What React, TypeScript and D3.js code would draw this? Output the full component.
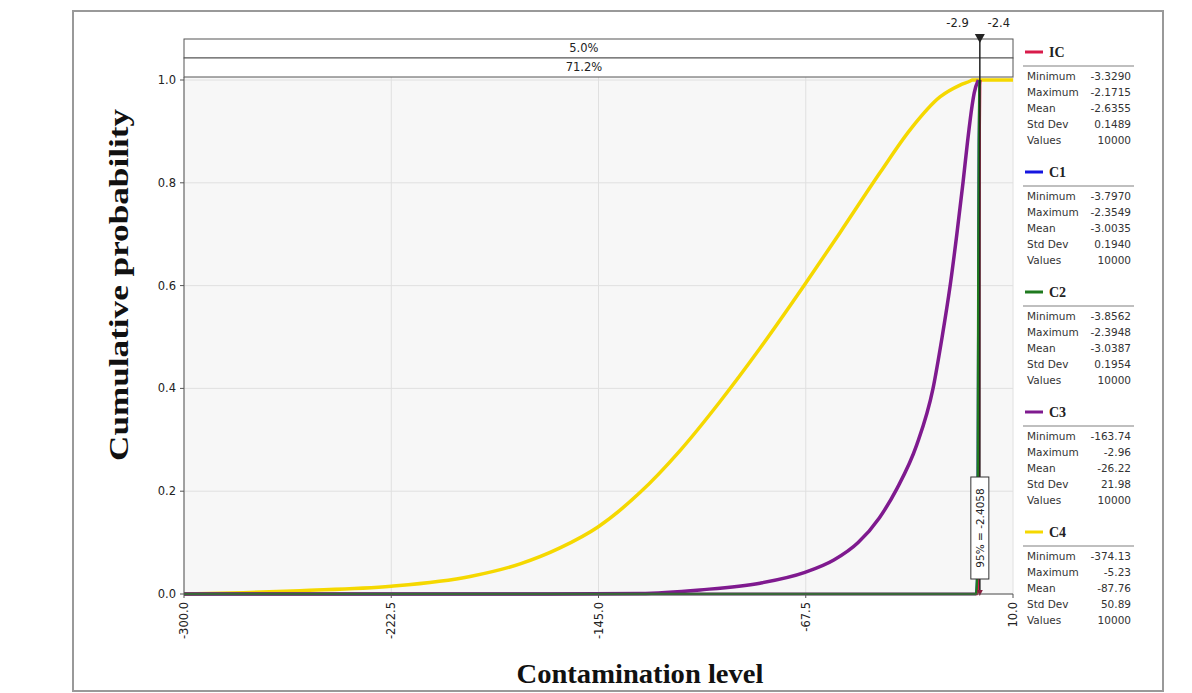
import React from "react";
import * as d3 from "d3";

const xTicks = [-300, -222.5, -145, -67.5, 10];
const yTicks = [0, 0.2, 0.4, 0.6, 0.8, 1.0];

const c4X = [-300, -278, -256.6, -222.5, -193, -174.3, -159.4, -145.2, -129.5, -114.5, -99.6, -84.6, -67.8, -54.7, -39.7, -28.5, -17.3, -9.8, -6, -5.23, 10];
const c4P = [0, 0.0025, 0.0065, 0.015, 0.034, 0.0586, 0.0897, 0.1304, 0.1973, 0.279, 0.374, 0.478, 0.6025, 0.703, 0.82, 0.903, 0.967, 0.99, 0.998, 1, 1];

const c3X = [-300, -163.74, -129.5, -107, -84.6, -67.8, -57, -47.9, -40, -33.4, -26, -19.9, -16.5, -13.5, -11, -8.7, -7, -5.3, -4.5, -2.96];
const c3P = [0, 0, 0.001, 0.008, 0.021, 0.042, 0.066, 0.1, 0.148, 0.205, 0.29, 0.4, 0.5, 0.6, 0.7, 0.8, 0.88, 0.95, 0.975, 1];

const icX = [-300, -3.33, -2.95, -2.8, -2.7, -2.64, -2.55, -2.45, -2.3, -2.17];
const icP = [0, 0, 0.02, 0.13, 0.33, 0.5, 0.72, 0.9, 0.99, 1];

const c1X = [-300, -3.8, -3.35, -3.2, -3.08, -3.0, -2.9, -2.75, -2.55, -2.35];
const c1P = [0, 0, 0.04, 0.18, 0.36, 0.5, 0.69, 0.88, 0.98, 1];

const c2X = [-300, -3.86, -3.38, -3.22, -3.12, -3.04, -2.94, -2.78, -2.6, -2.39];
const c2P = [0, 0, 0.04, 0.18, 0.36, 0.5, 0.69, 0.88, 0.98, 1];

const seriesNames = ["IC", "C1", "C2", "C3", "C4"];
const seriesColors = ["#d81b4a", "#1515e0", "#1f7a1f", "#7f1a8f", "#f5d800"];
const statLabels = ["Minimum", "Maximum", "Mean", "Std Dev", "Values"];
const statValues = [
  ["-3.3290", "-2.1715", "-2.6355", "0.1489", "10000"],
  ["-3.7970", "-2.3549", "-3.0035", "0.1940", "10000"],
  ["-3.8562", "-2.3948", "-3.0387", "0.1954", "10000"],
  ["-163.74", "-2.96", "-26.22", "21.98", "10000"],
  ["-374.13", "-5.23", "-87.76", "50.89", "10000"],
];

const leftMarker = -2.9;
const rightMarker = -2.4;
const topPct = "5.0%";
const midPct = "71.2%";
const pctLabel = "95% = -2.4058";

export default function App() {
  const x = d3.scaleLinear().domain([-300, 10]).range([184, 1013]);
  const y = d3.scaleLinear().domain([0, 1]).range([594, 80]);
  const line = d3
    .line<[number, number]>()
    .x((d) => x(d[0]))
    .y((d) => y(d[1]))
    .curve(d3.curveMonotoneX);

  const data: { [k: string]: [number[], number[]] } = {
    IC: [icX, icP],
    C1: [c1X, c1P],
    C2: [c2X, c2P],
    C3: [c3X, c3P],
    C4: [c4X, c4P],
  };
  const drawOrder = ["C4", "C3", "C1", "IC", "C2"];

  const tickFont = "'DejaVu Sans', sans-serif";
  const mx = x(rightMarker);
  const plotTop = 77;

  return (
    <svg
      width={1192}
      height={693}
      style={{ position: "absolute", left: 0, top: 0, background: "#fff" }}
    >
      <rect x={73} y={11} width={1090} height={680} fill="#fff" stroke="#999" strokeWidth={2} />
      {/* plot background */}
      <rect x={x(-300)} y={plotTop} width={x(10) - x(-300)} height={y(0) - plotTop} fill="#f7f7f7" />
      {/* grid */}
      {xTicks.map((t) => (
        <line key={"gx" + t} x1={x(t)} x2={x(t)} y1={plotTop} y2={y(0)} stroke="#e0e0e0" strokeWidth={1} />
      ))}
      {yTicks.map((t) => (
        <line key={"gy" + t} x1={x(-300)} x2={x(10)} y1={y(t)} y2={y(t)} stroke="#e0e0e0" strokeWidth={1} />
      ))}
      {/* top boxes */}
      <rect x={x(-300)} y={39} width={x(10) - x(-300)} height={19} fill="#fff" stroke="#555" strokeWidth={1} />
      <rect x={x(-300)} y={58} width={x(10) - x(-300)} height={19} fill="#fff" stroke="#555" strokeWidth={1} />
      <text x={(x(-300) + mx) / 2 + 2} y={52} textAnchor="middle" fontFamily={tickFont} fontSize={11.5} fill="#222">
        {topPct}
      </text>
      <text x={(x(-300) + mx) / 2 + 2} y={71} textAnchor="middle" fontFamily={tickFont} fontSize={11.5} fill="#222">
        {midPct}
      </text>
      <text x={x(leftMarker) - 21} y={27} textAnchor="middle" fontFamily={tickFont} fontSize={11.5} fill="#222">
        {leftMarker.toFixed(1)}
      </text>
      <text x={x(rightMarker) + 19} y={27} textAnchor="middle" fontFamily={tickFont} fontSize={11.5} fill="#222">
        {rightMarker.toFixed(1)}
      </text>
      {/* curves */}
      {drawOrder.map((name) => {
        const [xs, ps] = data[name];
        const pts = xs.map((v, i) => [v, ps[i]] as [number, number]);
        const color = seriesColors[seriesNames.indexOf(name)];
        return (
          <path key={name} d={line(pts) || ""} fill="none" stroke={color} strokeWidth={name === "C4" || name === "C3" ? 3.5 : 2.5} />
        );
      })}
      {/* marker line */}
      <line x1={mx} x2={mx} y1={34} y2={y(0)} stroke="#222" strokeWidth={1.5} />
      <path d={`M${mx - 5},${34} L${mx + 5},${34} L${mx},${43} Z`} fill="#222" />
      {/* 95% label */}
      <rect x={mx - 9} y={477} width={18} height={102} fill="#fff" stroke="#333" strokeWidth={1} />
      <text
        transform={`translate(${mx + 4},${528}) rotate(-90)`}
        textAnchor="middle"
        fontFamily={tickFont}
        fontSize={10.5}
        fill="#222"
      >
        {pctLabel}
      </text>
      <path d={`M${mx - 3},${590} L${mx + 3},${590} L${mx},${596} Z`} fill="#8a2040" />
      {/* axes */}
      <line x1={x(-300)} x2={x(-300)} y1={plotTop} y2={y(0)} stroke="#555" strokeWidth={1} />
      <line x1={x(-300)} x2={x(10)} y1={y(0)} y2={y(0)} stroke="#555" strokeWidth={1} />
      {yTicks.map((t) => (
        <g key={"yt" + t}>
          <line x1={x(-300) - 4} x2={x(-300)} y1={y(t)} y2={y(t)} stroke="#555" />
          <text x={x(-300) - 8} y={y(t) + 4} textAnchor="end" fontFamily={tickFont} fontSize={11.5} fill="#222">
            {t.toFixed(1)}
          </text>
        </g>
      ))}
      {xTicks.map((t) => (
        <g key={"xt" + t}>
          <line x1={x(t)} x2={x(t)} y1={y(0)} y2={y(0) + 4} stroke="#555" />
          <text
            transform={`translate(${x(t) + 4},${y(0) + 8}) rotate(-90)`}
            textAnchor="end"
            fontFamily={tickFont}
            fontSize={11.5}
            fill="#222"
          >
            {t.toFixed(1)}
          </text>
        </g>
      ))}
      {/* axis titles */}
      <text
        transform={`translate(128,285) rotate(-90)`}
        textAnchor="middle"
        fontFamily="'Liberation Serif', serif"
        fontWeight="bold"
        fontSize={28}
        textLength={352}
        lengthAdjust="spacingAndGlyphs"
        fill="#111"
      >
        Cumulative probability
      </text>
      <text
        x={640}
        y={683}
        textAnchor="middle"
        fontFamily="'Liberation Serif', serif"
        fontWeight="bold"
        fontSize={28}
        textLength={247}
        lengthAdjust="spacingAndGlyphs"
        fill="#111"
      >
        Contamination level
      </text>
      {/* legend */}
      {seriesNames.map((name, i) => {
        const top = 52 + i * 120;
        return (
          <g key={"lg" + name}>
            <line x1={1025} x2={1043} y1={top} y2={top} stroke={seriesColors[i]} strokeWidth={3} />
            <text x={1049} y={top + 5} fontFamily="'Liberation Serif', serif" fontWeight="bold" fontSize={14} fill="#222">
              {name}
            </text>
            <line x1={1023} x2={1134} y1={top + 14} y2={top + 14} stroke="#aaa" strokeWidth={1.5} />
            {statLabels.map((lab, j) => (
              <g key={lab}>
                <text x={1027} y={top + 28 + j * 16} fontFamily={tickFont} fontSize={10.5} fill="#333">
                  {lab}
                </text>
                <text x={1131} y={top + 28 + j * 16} textAnchor="end" fontFamily={tickFont} fontSize={10.5} fill="#333">
                  {statValues[i][j]}
                </text>
              </g>
            ))}
          </g>
        );
      })}
    </svg>
  );
}
